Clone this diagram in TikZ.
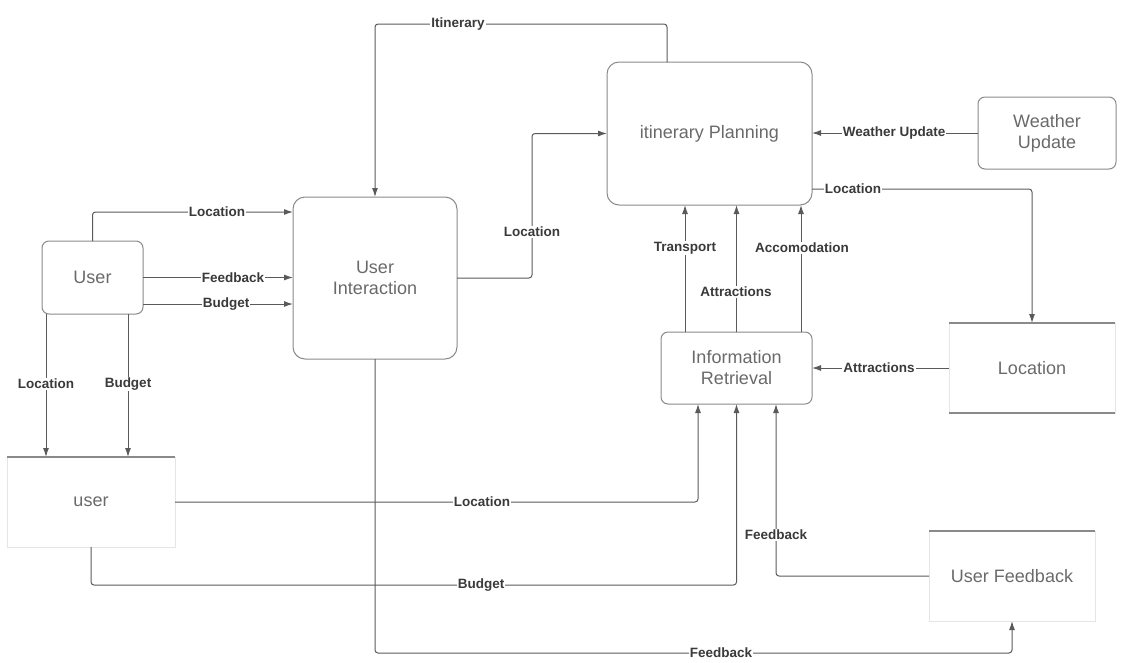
\documentclass[tikz,border=0pt]{standalone}
\usepackage{fontspec}
\setmainfont{Liberation Sans}
\usepackage{xcolor}
\usepackage{tikz}
\usetikzlibrary{positioning,calc,arrows.meta}

\definecolor{lineGray}{HTML}{5A5A5A}
\definecolor{boxGray}{HTML}{8A8A8A}
\definecolor{textGray}{HTML}{6A6A6A}
\definecolor{labelGray}{HTML}{3A3A3A}

\begin{document}
\begin{tikzpicture}[
    x=1pt, y=-1pt,
    process/.style={
        draw=boxGray,
        rounded corners=12pt,
        line width=1pt,
        fill=white,
        align=center,
        text=textGray,
        font=\fontsize{18}{21}\selectfont,
        inner sep=2pt, outer sep=0pt
    },
    smallbox/.style={process, rounded corners=7pt},
    store/.style={
        draw=black!10,
        line width=0.8pt,
        align=center,
        text=textGray,
        font=\fontsize{18}{21}\selectfont,
        inner sep=2pt, outer sep=0pt
    },
    storeline/.style={draw=boxGray, line width=1.1pt},
    flow/.style={-{Latex[length=9pt,width=6pt]}, draw=lineGray, line width=1pt, rounded corners=3pt},
    lbl/.style={fill=white, text=labelGray, inner sep=1pt, font=\bfseries\fontsize{13.5}{15}\selectfont}
]
    \useasboundingbox (0,0) rectangle (1123,662);

    % Process boxes
    \node[smallbox, minimum width=101pt, minimum height=73pt] (user) at (92.5,277.5) {User};
    \node[process, minimum width=164pt, minimum height=162pt] (ui) at (375,278) {User\\Interaction};
    \node[process, minimum width=205pt, minimum height=143pt] (plan) at (709.5,133.5) {itinerary Planning};
    \node[smallbox, minimum width=138pt, minimum height=72pt] (weather) at (1047,133) {Weather\\Update};
    \node[smallbox, minimum width=151pt, minimum height=72pt] (info) at (736.5,368) {Information\\Retrieval};

    % Data stores
    \node[store, minimum width=168pt, minimum height=90pt] (store) at (91,502) {user};
    \node[store, minimum width=166pt, minimum height=90pt] (loc) at (1032,368) {Location};
    \node[store, minimum width=166pt, minimum height=90pt] (feedback) at (1012,576) {User Feedback};
    \draw[storeline] (store.north west) -- (store.north east);
    \draw[storeline] (loc.north west) -- (loc.north east);
    \draw[storeline] (loc.south west) -- (loc.south east);
    \draw[storeline] (feedback.north west) -- (feedback.north east);

    % User to User Interaction
    \draw[flow] (user.north) |- ([yshift=66pt]ui.west);
    \draw[flow] (user.east) -- (user.east -| ui.west);
    \draw[flow] ([yshift=-26.5pt]user.east) -- ([yshift=-26.5pt]user.east -| ui.west);

    % User to user store
    \draw[flow] ([xshift=-46.5pt]user.south) -- ([xshift=-46.5pt]user.south |- store.north);
    \draw[flow] ([xshift=35.5pt]user.south) -- ([xshift=35.5pt]user.south |- store.north);

    % Planning and interaction
    \draw[flow] ([xshift=-42.5pt]plan.north) -- ++(0,-38) -| (ui.north);
    \draw[flow] (ui.east) -- ++(75,0) |- (plan.west);
    \draw[flow] (weather.west) -- (weather.west -| plan.east);
    \draw[flow] ([yshift=-55.5pt]plan.east) -| (loc.north);

    % Retrieval
    \draw[flow] (loc.west) -- (loc.west -| info.east);
    \draw[flow] ([xshift=-51.5pt]info.north) -- ([xshift=-51.5pt]info.north |- plan.south);
    \draw[flow] (info.north) -- (info.north |- plan.south);
    \draw[flow] ([xshift=64.5pt]info.north) -- ([xshift=64.5pt]info.north |- plan.south);
    \draw[flow] (store.east) -| ([xshift=-38.5pt]info.south);
    \draw[flow] (store.south) -- ++(0,38) -| (info.south);
    \draw[flow] (feedback.west) -| ([xshift=39.5pt]info.south);

    % Interaction to user feedback
    \draw[flow] (ui.south) -- ++(0,294) -| (feedback.south);

    % Connector labels
    \node[lbl] (lLoc1) at (217,212) {Location};
    \node[lbl] (lFb1) at (233,278) {Feedback};
    \node[lbl] (lBud1) at (226,304) {Budget};
    \node[lbl] (lLoc2) at (46,384) {Location};
    \node[lbl] (lBud2) at (128,384) {Budget};
    \node[lbl] (lItin) at (458,24) {Itinerary};
    \node[lbl] (lLoc3) at (532,232) {Location};
    \node[lbl] (lWeather) at (894,133) {Weather Update};
    \node[lbl] (lLoc4) at (853,189) {Location};
    \node[lbl] (lAttr1) at (879,368) {Attractions};
    \node[lbl] (lTrans) at (685,248) {Transport};
    \node[lbl] (lAttr2) at (736,292) {Attractions};
    \node[lbl] (lAcc) at (802,248) {Accomodation};
    \node[lbl] (lLoc5) at (482,502) {Location};
    \node[lbl] (lBud3) at (481,585) {Budget};
    \node[lbl] (lFb2) at (776,535) {Feedback};
    \node[lbl] (lFb3) at (721,653) {Feedback};
\end{tikzpicture}
\end{document}
